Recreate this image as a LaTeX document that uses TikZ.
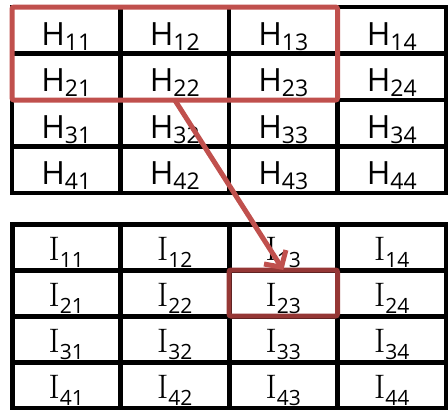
\documentclass[tikz,border=0pt]{standalone}
\usepackage{fontspec}
\usetikzlibrary{arrows.meta, positioning}
\usepackage{xcolor}
\newfontfamily\hfont{Open Sans}
\definecolor{boxred}{RGB}{192, 80, 77}
\definecolor{darkred}{RGB}{149, 55, 53}
\newcommand{\hcell}[1]{{\hfont\fontsize{32pt}{32pt}\selectfont H\raisebox{-5pt}{\fontsize{23pt}{23pt}\selectfont #1}}}
\newcommand{\icell}[1]{{\fontsize{34pt}{34pt}\selectfont I\raisebox{-7pt}{\hfont\fontsize{21pt}{21pt}\selectfont #1}}}

\begin{document}
\begin{tikzpicture}[x=1pt, y=-1pt,
  cell/.style={draw, line width=4.5pt, minimum width=108.5pt, minimum height=46.5pt, inner sep=0pt, outer sep=0pt},
  hbox/.style={cell, text height=37pt, text depth=7pt},
  ibox/.style={cell, line width=5pt, minimum height=46pt, text height=33pt, text depth=7pt}]
\useasboundingbox (0,0) rectangle (448,410);
\foreach \r in {1,...,4}
  \foreach \c in {1,...,4} {
    \node[hbox] (h\r\c) at ({12+108.5*(\c-0.5)}, {7+46.5*(\r-0.5)}) {\hcell{\r\c}};
    \node[ibox] (i\r\c) at ({12+108.5*(\c-0.5)}, {224+46*(\r-0.5)}) {\icell{\r\c}};
  }
\draw[boxred, line width=5pt, rounded corners=2pt] (h11.north west) rectangle (h23.south east);
\draw[darkred, line width=5pt, rounded corners=2pt] (i23.north west) rectangle (i23.south east);
\draw[boxred, line width=5pt, -{Straight Barb[length=12pt, width=26pt]}] (h22.south) -- (i23.north);
\end{tikzpicture}
\end{document}
